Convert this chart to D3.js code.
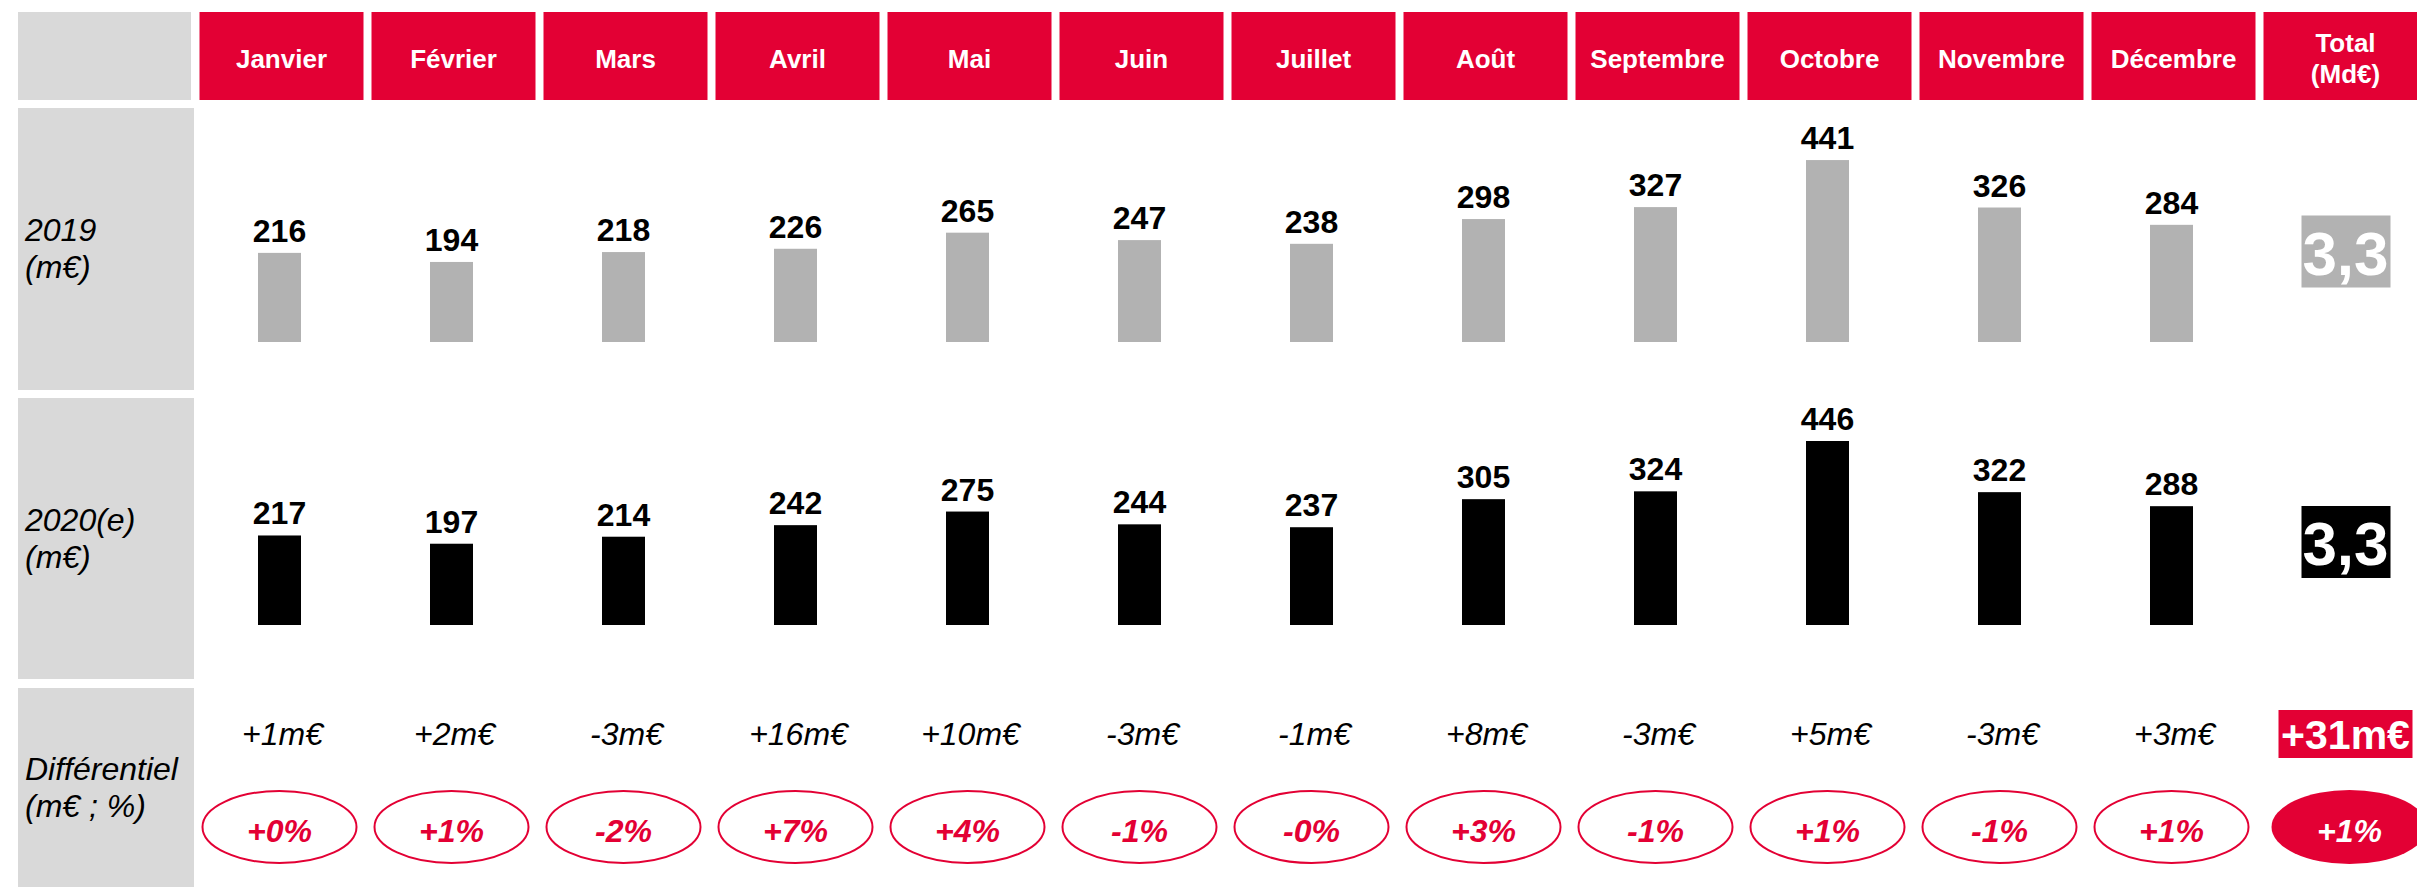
<!DOCTYPE html>
<html>
<head>
<meta charset="utf-8">
<script src="https://cdn.jsdelivr.net/npm/d3@7"></script>
<style>
  body { margin: 0; background: #fff; }
  text { font-family: "Liberation Sans", Arial, sans-serif; }
</style>
</head>
<body>
<div id="chart"></div>
<script>
// data
var months = ["Janvier", "Février", "Mars", "Avril", "Mai", "Juin", "Juillet", "Août", "Septembre", "Octobre", "Novembre", "Décembre"];
var values2019 = [216, 194, 218, 226, 265, 247, 238, 298, 327, 441, 326, 284];
var values2020 = [217, 197, 214, 242, 275, 244, 237, 305, 324, 446, 322, 288];
var diffM = ["+1m€", "+2m€", "-3m€", "+16m€", "+10m€", "-3m€", "-1m€", "+8m€", "-3m€", "+5m€", "-3m€", "+3m€"];
var diffPct = ["+0%", "+1%", "-2%", "+7%", "+4%", "-1%", "-0%", "+3%", "-1%", "+1%", "-1%", "+1%"];
var totalLabel = ["Total", "(Md€)"];
var total2019 = "3,3";
var total2020 = "3,3";
var totalDiffM = "+31m€";
var totalDiffPct = "+1%";
var rowLabels = [["2019", "(m€)"], ["2020(e)", "(m€)"], ["Différentiel", "(m€ ; %)"]];

var red = "#e30034", grey = "#d9d9d9", barGrey = "#b2b2b2";
var W = 2417, H = 887;

var svg = d3.select("#chart").append("svg")
	.attr("width", W).attr("height", H);

var columns = months.concat(["Total"]);
var step = 172, gap = 8, x0 = 199.5;
var x = d3.scaleBand()
	.domain(columns)
	.range([x0, x0 + step * (columns.length - gap / step)])
	.paddingInner(gap / step)
	.paddingOuter(0);
var cx = function(d){ return x(d) + x.bandwidth() / 2; };

var y = d3.scaleLinear().domain([0, 446]).range([0, 184]);

// left grey label column
var rows = [
	{y0: 108, y1: 390},
	{y0: 398, y1: 679},
	{y0: 688, y1: 887}
];
svg.append("rect").attr("x", 18).attr("y", 12).attr("width", 173).attr("height", 88).attr("fill", grey);
rows.forEach(function(r, i){
	svg.append("rect").attr("x", 18).attr("y", r.y0).attr("width", 176).attr("height", r.y1 - r.y0).attr("fill", grey);
	var mid = (r.y0 + r.y1) / 2;
	var t = svg.append("text").attr("x", 25).attr("font-size", 32).attr("font-style", "italic").attr("fill", "#000");
	t.append("tspan").attr("x", 25).attr("y", mid - 8).text(rowLabels[i][0]);
	t.append("tspan").attr("x", 25).attr("y", mid + 29).text(rowLabels[i][1]);
});

// header cells
svg.selectAll(".head").data(columns).enter().append("rect")
	.attr("class", "head")
	.attr("x", function(d){ return x(d); })
	.attr("y", 12)
	.attr("width", x.bandwidth())
	.attr("height", 88)
	.attr("fill", red);

svg.selectAll(".headtxt").data(months).enter().append("text")
	.attr("x", cx).attr("y", 68)
	.attr("text-anchor", "middle")
	.attr("font-size", 26).attr("font-weight", "bold").attr("fill", "#fff")
	.text(function(d){ return d; });

svg.append("text")
	.attr("x", cx("Total")).attr("y", 52)
	.attr("text-anchor", "middle").attr("font-size", 26).attr("font-weight", "bold").attr("fill", "#fff")
	.text(totalLabel[0]);
svg.append("text")
	.attr("x", cx("Total")).attr("y", 83)
	.attr("text-anchor", "middle").attr("font-size", 26).attr("font-weight", "bold").attr("fill", "#fff")
	.text(totalLabel[1]);

// bar rows
var barW = 43;
function barRow(values, base, fill){
	var g = svg.append("g");
	g.selectAll("rect").data(values).enter().append("rect")
		.attr("x", function(d, i){ return cx(months[i]) - 2 - barW / 2; })
		.attr("y", function(d){ return base - y(d); })
		.attr("width", barW)
		.attr("height", function(d){ return y(d); })
		.attr("fill", fill);
	g.selectAll("text").data(values).enter().append("text")
		.attr("x", function(d, i){ return cx(months[i]) - 2; })
		.attr("y", function(d){ return base - y(d) - 11; })
		.attr("text-anchor", "middle")
		.attr("font-size", 32).attr("font-weight", "bold").attr("fill", "#000")
		.text(function(d){ return d; });
}
barRow(values2019, 342, barGrey);
barRow(values2020, 625, "#000");

// totals
function totalBox(label, cy, fill){
	svg.append("rect")
		.attr("x", cx("Total") - 44).attr("y", cy - 36)
		.attr("width", 89).attr("height", 72)
		.attr("fill", fill);
	svg.append("text")
		.attr("x", cx("Total")).attr("y", cy + 23)
		.attr("text-anchor", "middle")
		.attr("font-size", 62).attr("font-weight", "bold").attr("fill", "#fff")
		.text(label);
}
totalBox(total2019, 251.5, barGrey);
totalBox(total2020, 542, "#000");

// differential row
svg.selectAll(".dm").data(diffM).enter().append("text")
	.attr("x", function(d, i){ return cx(months[i]) + 1; })
	.attr("y", 745)
	.attr("text-anchor", "middle")
	.attr("font-size", 32).attr("font-style", "italic").attr("fill", "#000")
	.text(function(d){ return d; });

svg.selectAll(".ell").data(diffPct).enter().append("ellipse")
	.attr("cx", function(d, i){ return cx(months[i]) - 2; })
	.attr("cy", 827)
	.attr("rx", 77).attr("ry", 36)
	.attr("fill", "#fff").attr("stroke", red).attr("stroke-width", 2);

svg.selectAll(".dp").data(diffPct).enter().append("text")
	.attr("x", function(d, i){ return cx(months[i]) - 2; })
	.attr("y", 842)
	.attr("text-anchor", "middle")
	.attr("font-size", 32).attr("font-style", "italic").attr("font-weight", "bold").attr("fill", red)
	.text(function(d){ return d; });

svg.append("rect")
	.attr("x", cx("Total") - 67).attr("y", 710)
	.attr("width", 134).attr("height", 48)
	.attr("fill", red);
svg.append("text")
	.attr("x", cx("Total")).attr("y", 749)
	.attr("text-anchor", "middle")
	.attr("font-size", 41).attr("font-weight", "bold").attr("fill", "#fff")
	.text(totalDiffM);

svg.append("ellipse")
	.attr("cx", cx("Total") + 4).attr("cy", 827)
	.attr("rx", 78).attr("ry", 37)
	.attr("fill", red);
svg.append("text")
	.attr("x", cx("Total") + 4).attr("y", 842)
	.attr("text-anchor", "middle")
	.attr("font-size", 32).attr("font-style", "italic").attr("font-weight", "bold").attr("fill", "#fff")
	.text(totalDiffPct);
</script>
</body>
</html>
